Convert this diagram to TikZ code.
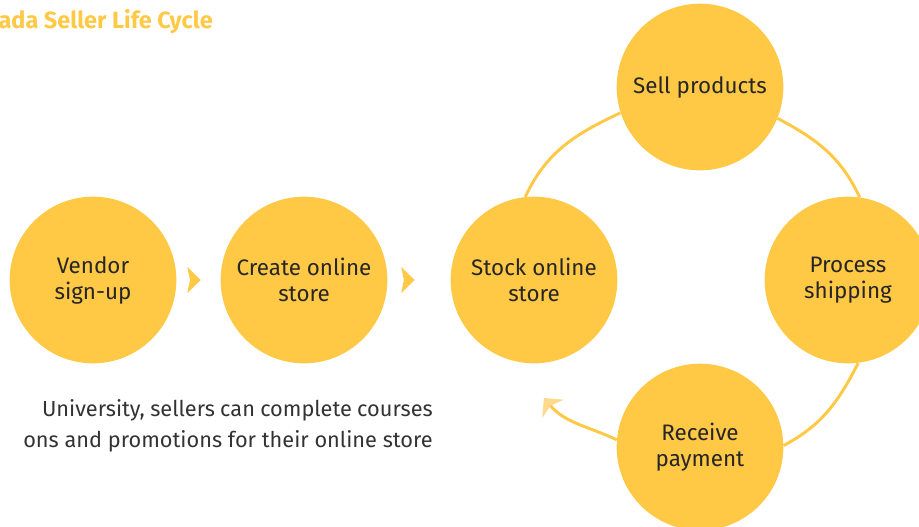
\documentclass[tikz,border=0pt]{standalone}
\usepackage{fontspec}
\setmainfont{Fira Sans}
\usepackage{tikz}
\usetikzlibrary{arrows.meta}
\usetikzlibrary{decorations, decorations.markings}
\definecolor{lzyellow}{HTML}{FFC845}
\definecolor{lzlight}{HTML}{FFDA8C}
\definecolor{lztext}{HTML}{333333}
\tikzset{>=latex}

\begin{document}
\begin{tikzpicture}[x=0.75pt,y=0.75pt]

        % Setup the styles for the stages
        \tikzset{stage/.style={circle,
                               fill=lzyellow,
                               minimum size=125pt,
                               inner sep=0pt,
                               align=center,
                               text=black!85,
                               font=\fontsize{16.8}{19.5}\selectfont},
                 cycle line/.style={draw=lzyellow, line width=2.2pt},
                 chevron/.style={decoration={markings,
                                 mark=at position #1 with {\arrow{Stealth[length=10pt,width=19.5pt,inset=2pt,color=lzyellow]}}},
                                 postaction={decorate}}}
        \useasboundingbox (0,0) rectangle (919,-526);

        % Title and text
        \node[anchor=base east, inner sep=0pt, text=lzyellow, font=\fontsize{17.6}{20}\selectfont\bfseries] at (213,-28) (title) {ada Seller Life Cycle};
        \node[anchor=base east, text=lztext, inner sep=0pt, font=\fontsize{16.3}{19}\selectfont] at (433,-416) (line1)
            {\makebox[293pt][s]{University, sellers can complete courses}};
        \node[anchor=base east, text=lztext, inner sep=0pt, font=\fontsize{16.3}{19}\selectfont] at (433,-447) (line2)
            {ons and promotions for their online store};

        % Draw the stages
        \node[stage] at (93, -280)   (vendor) {Vendor\\sign-up};
        \node[stage] at (304, -280)  (create) {Create online\\store};
        \node[stage] at (534, -280)  (stock)  {Stock online\\store};
        \node[stage] at (700, -87)   (sell)   {Sell products};
        \node[stage] at (848, -280)  (ship)   {Process\\shipping};
        \node[stage] at (700, -447)  (pay)    {Receive\\payment};
        \coordinate (back) at (544, -398);

        % Chevrons between the first stages
        \path[chevron=0.55] (vendor) -- (create);
        \path[chevron=0.43] (create) -- (stock);

        % Connect the cycle
        \draw[cycle line] (stock.96) to[out=65, in=205] (sell.198);
        \draw[cycle line] (sell.338) to[out=-28, in=115] (ship.82);
        \draw[cycle line] (ship.277) to[out=-117, in=28] (pay.1);
        \draw[cycle line, -{Stealth[length=10.5pt,width=21pt,inset=3pt,color=lzlight]}] (pay.175) to[out=155, in=-50] (back);
    \end{tikzpicture}
\end{document}
